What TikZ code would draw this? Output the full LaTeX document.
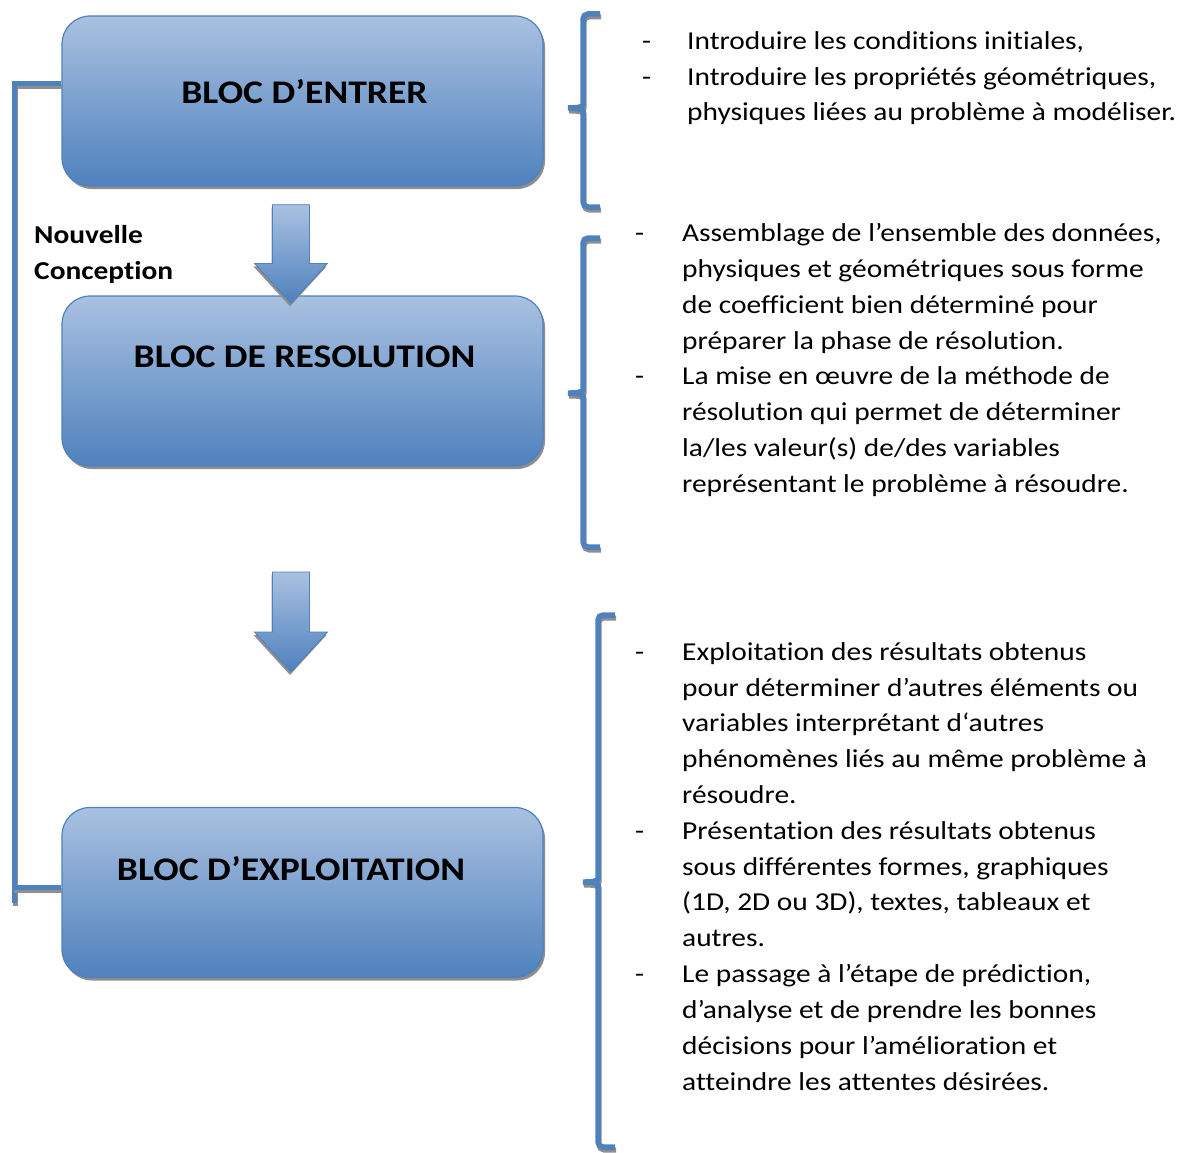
\documentclass[tikz,border=0pt]{standalone}
\usepackage{fontspec}
\setmainfont[FakeStretch=1.14, Ligatures=NoCommon]{Carlito}
\usetikzlibrary{shadows}

\definecolor{boxtop}{HTML}{A9C1E1}
\definecolor{boxbot}{HTML}{4F81BD}
\definecolor{linblue}{HTML}{4F81BD}
\definecolor{shadowgray}{HTML}{8E8E8E}

\tikzset{
  bloc/.style={draw=linblue, line width=1.2pt, rounded corners=28pt,
    top color=boxtop, bottom color=boxbot,
    minimum width=481pt, minimum height=170pt, inner sep=0pt,
    drop shadow={shadow xshift=2pt, shadow yshift=-3pt, fill=shadowgray, opacity=1}},
  flow/.style={draw=linblue, line width=0.8pt, top color=boxtop, bottom color=boxbot,
    drop shadow={shadow xshift=-1pt, shadow yshift=-3pt, fill=shadowgray, opacity=1}},
  title/.style={font=\fontsize{33}{40}\selectfont\bfseries, inner sep=0pt, anchor=base},
  itemtxt/.style={font=\fontsize{25.8}{35.8}\selectfont, inner sep=0pt, anchor=north west, align=left},
  bar/.style={draw=linblue, line width=5pt,
    preaction={draw=shadowgray, line width=5pt, transform canvas={xshift=1pt, yshift=-3pt}}},
  brk/.style={bar, line width=5.5pt, rounded corners=5pt}
}

\begin{document}
\begin{tikzpicture}[x=1pt, y=-1pt]
\useasboundingbox (0,0) rectangle (1189,1153);

\node (bE) [bloc] at (302.5,101) {};
\node (bR) [bloc] at (302.5,381) {};
\node (bX) [bloc] at (302.5,892.5) {};

\node (tE) [title] at (304.5,103.3) {BLOC D’ENTRER};
\node (tR) [title] at (304.5,367.5) {BLOC DE RESOLUTION};
\node (tX) [title] at (291,880.5) {BLOC D’EXPLOITATION};

\coordinate (tip1) at ([xshift=-11.5pt, yshift=-8pt]bR.north);
\coordinate (tip2) at (291,672);
\draw [flow] (tip1) -- ++(-36.5,-40) -- ++(18,0) -- ++(0,-58.7) -- ++(37,0)
  -- ++(0,58.7) -- ++(18,0) -- cycle;
\draw [flow] (tip2) -- ++(-36.5,-40) -- ++(18,0) -- ++(0,-60) -- ++(37,0)
  -- ++(0,60) -- ++(18,0) -- cycle;

\coordinate (lb) at (14,903);
\draw [bar] ([yshift=17pt]bE.west) -| (lb);
\draw [bar] ([yshift=5.5pt]bX.west) -- ++(-48,0);

\node (nc) [itemtxt, font=\fontsize{25.8}{35.8}\selectfont\bfseries] at (34,218) {\strut Nouvelle\\Conception};

\draw [brk] (600,14) -| (583,100) to[out=270, in=0] (565,108)
  to[out=0, in=90] (583,116) |- (600,207);
\draw [brk] (600,238) -| (583,385) to[out=270, in=0] (565,393)
  to[out=0, in=90] (583,401) |- (600,547);
\draw [brk] (615,615) -| (598,874) to[out=270, in=0] (580,882)
  to[out=0, in=90] (598,890) |- (615,1147);

\node (dA1) [itemtxt] at (642,24) {\strut-};
\node (tA1) [itemtxt] at (687,24) {\strut Introduire les conditions initiales,};
\node (dA2) [itemtxt] at (642,59.8) {\strut-};
\node (tA2) [itemtxt] at (687,59.8) {\strut Introduire les propriétés géométriques,\\
  physiques liées au problème à modéliser.};

\node (dB1) [itemtxt] at (635,216.6) {\strut-};
\node (tB1) [itemtxt] at (682,216.6) {\strut Assemblage de l’ensemble des données,\\
  physiques et géométriques sous forme\\
  de coefficient bien déterminé pour\\
  préparer la phase de résolution.};
\node (dB2) [itemtxt] at (635,359.6) {\strut-};
\node (tB2) [itemtxt] at (682,359.6) {\strut La mise en œuvre de la méthode de\\
  résolution qui permet de déterminer\\
  la/les valeur(s) de/des variables\\
  représentant le problème à résoudre.};

\node (dC1) [itemtxt] at (635,635) {\strut-};
\node (tC1) [itemtxt] at (682,635) {\strut Exploitation des résultats obtenus\\
  pour déterminer d’autres éléments ou\\
  variables interprétant d‘autres\\
  phénomènes liés au même problème à\\
  résoudre.};
\node (dC2) [itemtxt] at (635,814) {\strut-};
\node (tC2) [itemtxt] at (682,814) {\strut Présentation des résultats obtenus\\
  sous différentes formes, graphiques\\
  (1D, 2D ou 3D), textes, tableaux et\\
  autres.};
\node (dC3) [itemtxt] at (635,957.5) {\strut-};
\node (tC3) [itemtxt] at (682,957.5) {\strut Le passage à l’étape de prédiction,\\
  d’analyse et de prendre les bonnes\\
  décisions pour l’amélioration et\\
  atteindre les attentes désirées.};

\end{tikzpicture}
\end{document}
